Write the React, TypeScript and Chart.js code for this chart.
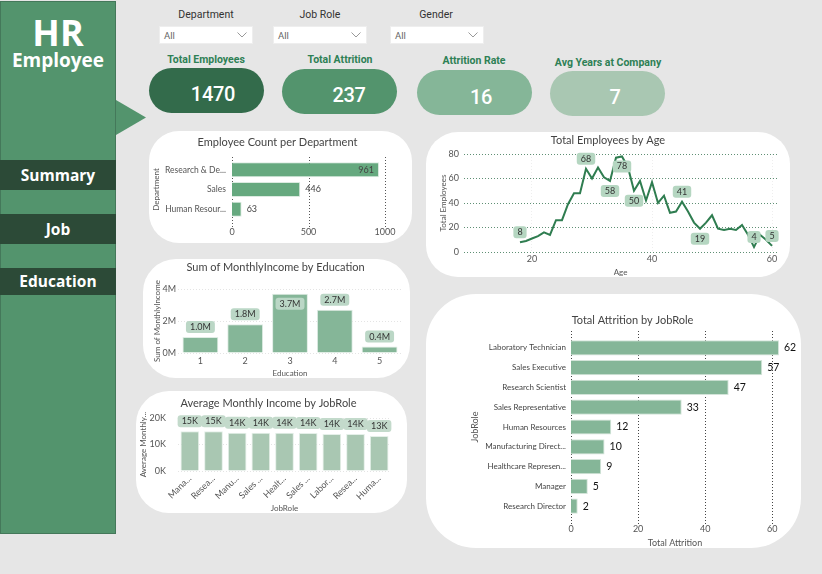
import React, { useEffect, useRef } from "react";
import { Chart, registerables } from "chart.js";

Chart.register(...registerables);

const departments = ["Research & Development", "Sales", "Human Resources"];
const departmentCounts = [961, 446, 63];

const ages = [18,19,20,21,22,23,24,25,26,27,28,29,30,31,32,33,34,35,36,37,38,39,40,41,42,43,44,45,46,47,48,49,50,51,52,53,54,55,56,57,58,59,60];
const ageCounts = [8,9,11,13,16,14,26,26,39,48,48,68,60,69,61,58,77,78,69,50,58,42,57,40,46,32,33,41,33,24,19,24,30,19,18,19,18,22,14,4,14,10,5];
const agesTagged = [18,29,33,35,37,45,48,57,60];
const agesTaggedBelow = [33,35,37,48];

const educationLevels = ["1","2","3","4","5"];
const educationIncome = [1000000,1800000,3700000,2700000,400000];

const incomeRoles = ["Manager","Research Director","Manufacturing Director","Sales Executive","Healthcare Representative","Sales Representative","Laboratory Technician","Research Scientist","Human Resources"];
const incomeByRole = [15000,15000,14400,14400,14400,14300,14000,14000,13200];

const attritionRoles = ["Laboratory Technician","Sales Executive","Research Scientist","Sales Representative","Human Resources","Manufacturing Director","Healthcare Representative","Manager","Research Director"];
const attritionCounts = [62,57,47,33,12,10,9,5,2];

const kpiTitles = ["Total Employees","Total Attrition","Attrition Rate","Avg Years at Company"];
const kpiValues = ["1470","237","16","7"];
const slicerNames = ["Department","Job Role","Gender"];
const navItems = ["Summary","Job","Education"];

const UI = "Roboto, sans-serif";
const CHART = "Lato, sans-serif";
const TEXT = "#555";

const measurer = document.createElement("canvas").getContext("2d")!;
function fit(label: string, maxPx: number, font: string) {
  measurer.font = font;
  if (measurer.measureText(label).width <= maxPx) return label;
  let s = label;
  while (s.length > 1 && measurer.measureText(s + "...").width > maxPx) s = s.slice(0, -1);
  return s + "...";
}

const valueTags = {
  id: "valueTags",
  afterDatasetsDraw(chart: any, _a: any, o: any) {
    const { ctx, chartArea } = chart;
    const horizontal = chart.options.indexAxis === "y";
    const meta = chart.getDatasetMeta(0);
    const values = chart.data.datasets[0].data;
    ctx.save();
    ctx.font = `${o.size}px ${CHART}`;
    ctx.textAlign = "center";
    ctx.textBaseline = "middle";
    meta.data.forEach((el: any, i: number) => {
      const raw = values[i];
      const v = typeof raw === "object" ? raw.y : raw;
      const key = typeof raw === "object" ? raw.x : i;
      if (o.only && !o.only.includes(key)) return;
      const text = o.format(v);
      const w = ctx.measureText(text).width;
      let x = el.x;
      let y = el.y;
      if (horizontal) {
        const outside = x + 5 + w / 2;
        x = o.overflow || outside + w / 2 <= chartArea.right ? outside : x - 5 - w / 2;
      } else {
        const gap = o.gap;
        const below = o.below ? o.below.includes(key) : y - gap - 6 < chartArea.top - 1;
        y = below ? y + gap : y - gap;
      }
      if (o.background) {
        ctx.fillStyle = o.background;
        ctx.beginPath();
        ctx.roundRect(x - w / 2 - 4, y - 6, w + 8, 12, 3);
        ctx.fill();
      }
      ctx.fillStyle = o.color;
      ctx.fillText(text, x, y);
    });
    ctx.restore();
  },
};

const longGrid = {
  id: "longGrid",
  beforeDatasetsDraw(chart: any, _a: any, o: any) {
    if (!o.color) return;
    const { ctx, chartArea, scales } = chart;
    ctx.save();
    ctx.strokeStyle = o.color;
    ctx.lineWidth = 1;
    ctx.setLineDash([1, 2]);
    scales.x.ticks.forEach((t: any) => {
      const px = Math.round(scales.x.getPixelForValue(t.value)) + 0.5;
      ctx.beginPath();
      ctx.moveTo(px, chartArea.top - o.top);
      ctx.lineTo(px, chartArea.bottom + o.bottom);
      ctx.stroke();
    });
    ctx.restore();
  },
};

type Box = { l: number; t: number; r: number; b: number };
type Frame = {
  box: Box;
  plot: Box;
  titleY: number;
  title: string;
  titleSize?: number;
  yTitleX?: number;
  xTitleY?: number;
};

function pinned(f: Frame) {
  const lh = 1.2;
  const titleSize = f.titleSize ?? 11;
  const top = f.titleY - f.box.t - (titleSize * lh) / 2;
  const bottom = f.plot.t - f.box.t - top - titleSize * lh;
  const noPad = (s: any) => {
    s.paddingLeft = s.paddingRight = s.paddingTop = s.paddingBottom = 0;
  };
  return {
    layout: { padding: 0 },
    title: {
      display: true,
      text: f.title,
      color: "#444",
      font: { family: CHART, size: titleSize, weight: "normal" as const },
      padding: { top, bottom },
    },
    xFit: (s: any) => {
      s.height = f.box.b - f.plot.b;
      noPad(s);
      s.paddingRight = f.box.r - f.plot.r;
    },
    yFit: (s: any) => {
      s.width = f.plot.l - f.box.l;
      noPad(s);
    },
    yTitlePad: (f.yTitleX ?? 0) - f.box.l - 4.2,
    xTitlePad: f.box.b - (f.xTitleY ?? 0) - 4.2,
  };
}

function axisTitle(text: string, pad: number, size = 8) {
  return { display: true, text, color: TEXT, font: { family: CHART, size }, padding: { top: pad, bottom: 0 } };
}

function deptConfig(f: Frame) {
  const p = pinned(f);
  const font = `8.5px ${CHART}`;
  return {
    type: "bar",
    data: { labels: departments, datasets: [{ data: departmentCounts, backgroundColor: "#66a97f", borderColor: "#dcebe1", borderWidth: 1, categoryPercentage: 1, barPercentage: 0.76 }] },
    options: {
      indexAxis: "y",
      layout: p.layout,
      scales: {
        x: { min: 0, max: 1000, afterFit: p.xFit, grid: { display: false, drawTicks: false }, border: { display: false },
          ticks: { stepSize: 500, padding: 8, color: TEXT, font: { family: CHART, size: 9 }, callback: (v: any) => String(v) } },
        y: { afterFit: p.yFit, grid: { display: false, drawTicks: false }, border: { display: false }, title: axisTitle("Department", p.yTitlePad),
          ticks: { padding: 6, color: TEXT, font: { family: CHART, size: 8.5 },
            callback(this: any, v: any) { return fit(this.getLabelForValue(v), 63, font); } } },
      },
      plugins: { legend: { display: false }, tooltip: { enabled: false }, title: p.title,
        longGrid: { color: "#555", top: 3, bottom: 8 },
        valueTags: { size: 9, color: "#444", format: (v: number) => String(v) } },
    },
    plugins: [longGrid, valueTags],
  };
}

function ageConfig(f: Frame) {
  const p = pinned(f);
  return {
    type: "line",
    data: { datasets: [{ data: ages.map((a, i) => ({ x: a, y: ageCounts[i] })), borderColor: "#2f7d50", borderWidth: 2, pointRadius: 0, tension: 0 }] },
    options: {
      layout: p.layout,
      scales: {
        x: { type: "linear", min: 8.67, max: 60.83, afterFit: p.xFit, grid: { color: "#eeeeee", drawTicks: false }, border: { display: false, dash: [1, 2] }, title: axisTitle("Age", p.xTitlePad),
          ticks: { stepSize: 20, includeBounds: false, padding: 2, color: TEXT, font: { family: CHART, size: 9 }, maxRotation: 0 } },
        y: { min: 0, max: 80, afterFit: p.yFit, grid: { color: "#5f8f74", drawTicks: false }, border: { display: false, dash: [1, 2] }, title: axisTitle("Total Employees", p.yTitlePad),
          ticks: { stepSize: 20, padding: 5, color: TEXT, font: { family: CHART, size: 9 } } },
      },
      plugins: { legend: { display: false }, tooltip: { enabled: false }, title: p.title,
        valueTags: { size: 9, color: "#333", background: "#b5d6c1", gap: 10, only: agesTagged, below: agesTaggedBelow, format: (v: number) => String(v) } },
    },
    plugins: [valueTags],
  };
}

function educationConfig(f: Frame) {
  const p = pinned(f);
  return {
    type: "bar",
    data: { labels: educationLevels, datasets: [{ data: educationIncome, backgroundColor: "#85b698", borderColor: "#dfece4", borderWidth: 1, categoryPercentage: 1, barPercentage: 0.8 }] },
    options: {
      layout: p.layout,
      scales: {
        x: { afterFit: p.xFit, grid: { display: false, drawTicks: false }, border: { display: false }, title: axisTitle("Education", p.xTitlePad),
          ticks: { padding: 3, color: TEXT, font: { family: CHART, size: 9 }, maxRotation: 0 } },
        y: { min: 0, max: 4000000, afterFit: p.yFit, grid: { color: "#e4e4e4", drawTicks: false }, border: { display: false, dash: [1, 2] }, title: axisTitle("Sum of MonthlyIncome", p.yTitlePad),
          ticks: { stepSize: 2000000, padding: 2, color: TEXT, font: { family: CHART, size: 9 }, callback: (v: any) => `${Number(v) / 1000000}M` } },
      },
      plugins: { legend: { display: false }, tooltip: { enabled: false }, title: p.title,
        valueTags: { size: 9, color: "#333", background: "#bbd7c6", gap: 10, format: (v: number) => `${(v / 1000000).toFixed(1)}M` } },
    },
    plugins: [valueTags],
  };
}

function incomeConfig(f: Frame) {
  const p = pinned(f);
  const font = `9px ${CHART}`;
  return {
    type: "bar",
    data: { labels: incomeRoles, datasets: [{ data: incomeByRole, backgroundColor: "#a9c7b2", borderColor: "#e4efe8", borderWidth: 1, categoryPercentage: 1, barPercentage: 0.79 }] },
    options: {
      layout: p.layout,
      scales: {
        x: { afterFit: p.xFit, grid: { display: false, drawTicks: false }, border: { display: false }, title: axisTitle("JobRole", p.xTitlePad),
          ticks: { padding: 2, autoSkip: false, minRotation: 45, maxRotation: 45, color: TEXT, font: { family: CHART, size: 9 },
            callback(this: any, v: any) { return fit(this.getLabelForValue(v), 31.5, font); } } },
        y: { min: 0, max: 20000, afterFit: p.yFit, grid: { color: "#e4e4e4", drawTicks: false }, border: { display: false, dash: [1, 2] }, title: axisTitle("Average Monthly...", p.yTitlePad),
          ticks: { stepSize: 10000, padding: 12, color: TEXT, font: { family: CHART, size: 9 }, callback: (v: any) => `${Number(v) / 1000}K` } },
      },
      plugins: { legend: { display: false }, tooltip: { enabled: false }, title: p.title,
        valueTags: { size: 9, color: "#333", background: "#c3dacb", gap: 10, below: [], format: (v: number) => `${Math.round(v / 1000)}K` } },
    },
    plugins: [valueTags],
  };
}

function attritionConfig(f: Frame) {
  const p = pinned(f);
  const font = `8px ${CHART}`;
  return {
    type: "bar",
    data: { labels: attritionRoles, datasets: [{ data: attritionCounts, backgroundColor: "#85b698", borderColor: "#d3e4d9", borderWidth: 1, categoryPercentage: 1, barPercentage: 0.77 }] },
    options: {
      indexAxis: "y",
      layout: p.layout,
      scales: {
        x: { min: 0, max: 62, afterFit: p.xFit, grid: { display: false, drawTicks: false }, border: { display: false }, title: axisTitle("Total Attrition", p.xTitlePad, 9),
          ticks: { stepSize: 20, includeBounds: false, padding: 8, color: TEXT, font: { family: CHART, size: 9 } } },
        y: { afterFit: p.yFit, grid: { display: false, drawTicks: false }, border: { display: false }, title: axisTitle("JobRole", p.yTitlePad, 9),
          ticks: { padding: 5, color: "#444", font: { family: CHART, size: 8 }, autoSkip: false,
            callback(this: any, v: any) { return fit(this.getLabelForValue(v), 81, font); } } },
      },
      plugins: { legend: { display: false }, tooltip: { enabled: false }, title: p.title,
        longGrid: { color: "#444", top: 7, bottom: 8 },
        valueTags: { size: 10.5, color: "#111", overflow: true, format: (v: number) => String(v) } },
    },
    plugins: [longGrid, valueTags],
  };
}

function Card({ card, radius, frame, make }: { card: Box; radius: number; frame: Frame; make: (f: Frame) => any }) {
  const ref = useRef<HTMLCanvasElement>(null);
  useEffect(() => {
    const built = make(frame);
    const chart = new Chart(ref.current!, {
      ...built,
      options: { ...built.options, animation: false, responsive: false, maintainAspectRatio: false },
    } as any);
    return () => chart.destroy();
  }, []);
  const { box } = frame;
  return (
    <>
      <div style={{ position: "absolute", left: card.l, top: card.t, width: card.r - card.l, height: card.b - card.t, background: "#fff", borderRadius: radius }} />
      <canvas ref={ref} width={box.r - box.l} height={box.b - box.t} style={{ position: "absolute", left: box.l, top: box.t, width: box.r - box.l, height: box.b - box.t }} />
    </>
  );
}

const abs = (l: number, t: number, w: number, h: number): React.CSSProperties => ({ position: "absolute", left: l, top: t, width: w, height: h });

function Slicer({ name, left, center }: { name: string; left: number; center: number }) {
  return (
    <>
      <div style={{ ...abs(center - 50, 8, 100, 14), textAlign: "center", font: `10.5px/14px ${UI}`, color: "#333" }}>{name}</div>
      <div style={{ ...abs(left, 26, 94, 18), background: "#fff", boxSizing: "border-box", border: "1px solid #eeeeee", font: `9.5px/17px ${UI}`, color: "#666", paddingLeft: 4 }}>
        All
        <svg width="10" height="6" style={{ position: "absolute", right: 5, top: 5 }}>
          <path d="M0.5 0.5 L5 5 L9.5 0.5" fill="none" stroke="#999" strokeWidth="1" />
        </svg>
      </div>
    </>
  );
}

const kpiPills = [
  { l: 149, t: 68, titleX: 206, titleY: 60, valueX: 213, valueY: 94, bg: "#336b4b" },
  { l: 282, t: 69, titleX: 340, titleY: 60, valueX: 349, valueY: 95, bg: "#53946d" },
  { l: 417, t: 70, titleX: 474, titleY: 61, valueX: 481, valueY: 97, bg: "#85b698" },
  { l: 550, t: 71, titleX: 608, titleY: 63, valueX: 615, valueY: 97, bg: "#a9c7b2" },
];
const navTops = [160, 214, 268];

export default function App() {
  useEffect(() => {
    document.body.style.background = "#e6e6e6";
  }, []);
  return (
    <div style={{ position: "absolute", left: 0, top: 0, width: 822, height: 574, overflow: "hidden", background: "#e6e6e6" }}>
      <div style={{ ...abs(0, 1, 116, 533), background: "#53946d", boxSizing: "border-box", border: "1px solid #44785a" }} />
      <div style={{ ...abs(116, 100, 30, 35), background: "#53946d", clipPath: "polygon(0 0, 100% 50%, 0 100%)" }} />
      <div style={{ ...abs(0, 13, 116, 40), textAlign: "center", color: "#fff", font: `700 36px/40px "Open Sans", sans-serif` }}>HR</div>
      <div style={{ ...abs(0, 47, 116, 26), textAlign: "center", color: "#fff", font: `700 19px/26px "Open Sans", sans-serif` }}>Employee</div>
      {navItems.map((n, i) => (
        <div key={n} style={{ ...abs(0, navTops[i], 116, i === 2 ? 27 : 30), background: "#2c4a37", textAlign: "center", color: "#fff", font: `700 15.5px/${i === 2 ? 27 : 30}px "Open Sans", sans-serif` }}>{n}</div>
      ))}

      <Slicer name={slicerNames[0]} left={159} center={206} />
      <Slicer name={slicerNames[1]} left={273} center={320} />
      <Slicer name={slicerNames[2]} left={390} center={436} />

      {kpiTitles.map((t, i) => {
        const k = kpiPills[i];
        return (
          <React.Fragment key={t}>
            <div style={{ ...abs(k.titleX - 70, k.titleY - 7, 140, 14), textAlign: "center", color: "#2e8055", font: `700 10.5px/14px ${UI}` }}>{t}</div>
            <div style={{ ...abs(k.l, k.t, 115, 45), background: k.bg, borderRadius: 23 }} />
            <div style={{ ...abs(k.valueX - 40, k.valueY - 14, 80, 28), textAlign: "center", color: "#fff", letterSpacing: -0.3, font: `500 20px/28px ${UI}` }}>{kpiValues[i]}</div>
          </React.Fragment>
        );
      })}

      <Card card={{ l: 149, t: 131, r: 412, b: 243 }} radius={30} make={deptConfig}
        frame={{ box: { l: 149, t: 131, r: 406, b: 243 }, plot: { l: 232, t: 160, r: 385, b: 219 }, titleY: 142.5, title: "Employee Count per Department", yTitleX: 156 }} />
      <Card card={{ l: 426, t: 132, r: 790, b: 277 }} radius={32} make={ageConfig}
        frame={{ box: { l: 426, t: 132, r: 790, b: 277 }, plot: { l: 464, t: 154, r: 777, b: 252 }, titleY: 140, title: "Total Employees by Age", yTitleX: 443, xTitleY: 269 }} />
      <Card card={{ l: 143, t: 259, r: 410, b: 378 }} radius={33} make={educationConfig}
        frame={{ box: { l: 143, t: 259, r: 408, b: 378 }, plot: { l: 178, t: 289, r: 402, b: 353 }, titleY: 267, title: "Sum of MonthlyIncome by Education", yTitleX: 157, xTitleY: 371 }} />
      <Card card={{ l: 136, t: 391, r: 407, b: 513 }} radius={33} make={incomeConfig}
        frame={{ box: { l: 136, t: 391, r: 401, b: 513 }, plot: { l: 178, t: 418, r: 391, b: 471 }, titleY: 403, title: "Average Monthly Income by JobRole", yTitleX: 143, xTitleY: 506 }} />
      <Card card={{ l: 426, t: 294, r: 801, b: 548 }} radius={50} make={attritionConfig}
        frame={{ box: { l: 464, t: 295, r: 801, b: 548 }, plot: { l: 571, t: 338, r: 779, b: 516 }, titleY: 320, title: "Total Attrition by JobRole", yTitleX: 474, xTitleY: 541 }} />
    </div>
  );
}
